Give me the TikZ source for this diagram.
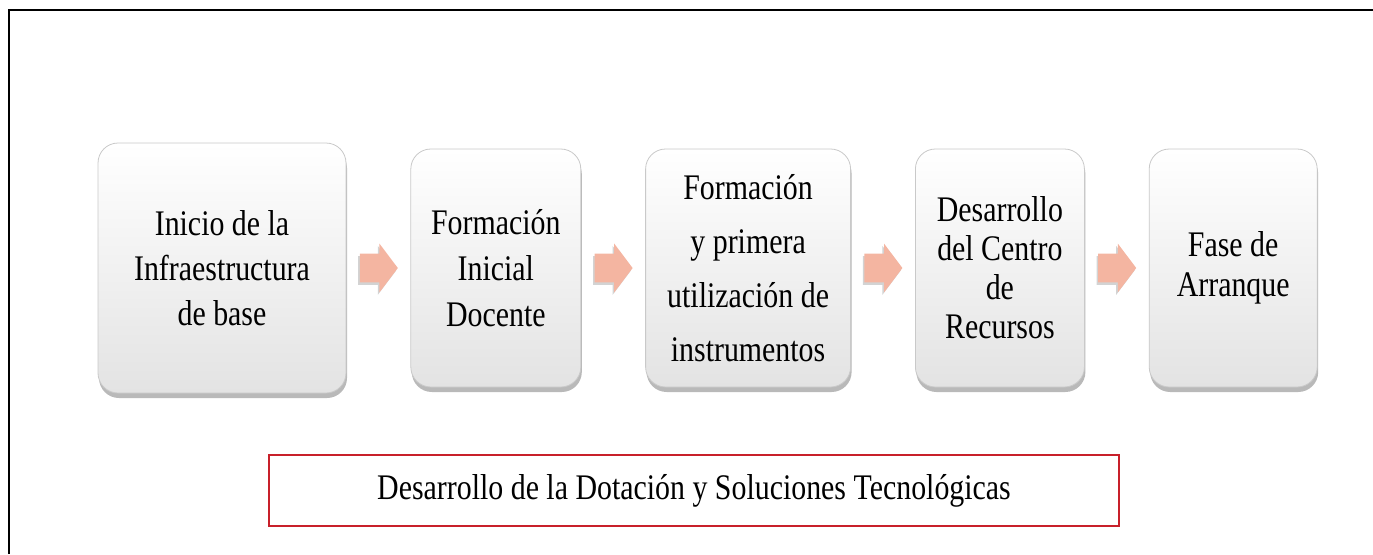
\documentclass[tikz,border=0pt]{standalone}
\usepackage{fontspec}
\setmainfont{Liberation Serif}
\newfontfamily\boxfont[FakeStretch=0.83]{Liberation Serif}
\usetikzlibrary{positioning,shapes.arrows,shadows,calc}
\definecolor{Salmon}{HTML}{F4B5A1}
\definecolor{Edge}{HTML}{C9C9C9}
\definecolor{Frame}{HTML}{C8202A}

\begin{document}
\begin{tikzpicture}[
  node distance=32pt,
  stage/.style={rounded corners=10pt,draw=Edge,top color=white,bottom color=gray!22,align=center,inner sep=2pt,minimum height=119pt,font=\boxfont\fontsize{18pt}{#1}\selectfont,drop shadow={shadow xshift=0.5pt,shadow yshift=-2.5pt,opacity=0.5,fill=black!55}},
  stage/.default=23pt,
  flow/.style={single arrow,draw=none,fill=Salmon,text height=7pt,text depth=7pt,text width=0pt,minimum height=19pt,minimum width=0pt,single arrow head extend=5pt,single arrow tip angle=106,inner sep=0pt,xshift=-2.5pt,drop shadow={shadow xshift=-0.8pt,shadow yshift=-1.2pt,opacity=0.35,fill=black!50}},
  note/.style={draw=Frame,line width=1pt,minimum width=425pt,minimum height=35.5pt,font=\boxfont\fontsize{18pt}{22pt}\selectfont}
]
\useasboundingbox (0,0) rectangle (686.5pt,277pt);
\draw[line width=1pt] (4.5pt,0pt) -- (4.5pt,272pt) -- (686.5pt,272pt);

% stages
\node[stage=22.5pt,minimum width=124pt,minimum height=125pt] (s1) at (111pt,143pt) {Inicio de la\\Infraestructura\\de base};
\node[stage,minimum width=85pt,right=of s1] (s2) {Formación\\Inicial\\Docente};
\node[stage=27pt,minimum width=102.5pt,right=of s2] (s3) {Formación\\y primera\\utilización de\\instrumentos};
\node[stage=19.5pt,minimum width=84.5pt,right=of s3] (s4) {Desarrollo\\del Centro\\de\\Recursos};
\node[stage=20pt,minimum width=84pt,right=of s4] (s5) {Fase de\\Arranque};

% arrows between stages
\node[flow] (a1) at ($(s1.east)!0.5!(s2.west)$) {};
\node[flow] (a2) at ($(s2.east)!0.5!(s3.west)$) {};
\node[flow] (a3) at ($(s3.east)!0.5!(s4.west)$) {};
\node[flow] (a4) at ($(s4.east)!0.5!(s5.west)$) {};

\node[note] (n) at (347pt,31.75pt) {Desarrollo de la Dotación y Soluciones Tecnológicas};
\end{tikzpicture}
\end{document}
